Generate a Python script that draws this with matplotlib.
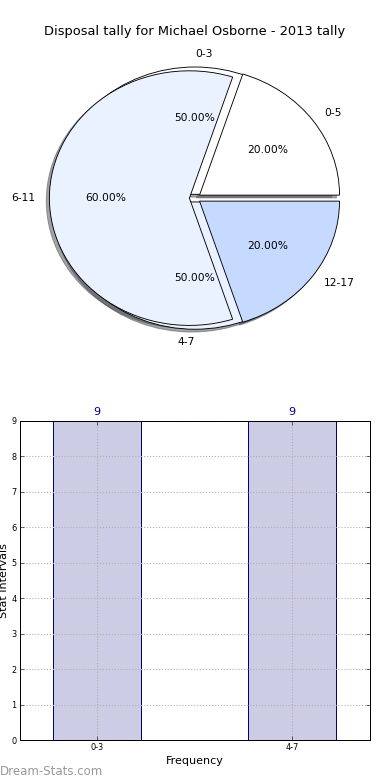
import matplotlib
matplotlib.use("Agg")
import matplotlib.pyplot as plt

# pie data (two overlaid pies, as in the original chart)
inner_labels = ["0-3", "4-7"]
inner_values = [9, 9]
inner_colors = ["white", "#EBF2FF"]

outer_labels = ["0-5", "6-11", "12-17"]
outer_values = [1, 3, 1]
outer_colors = ["white", "#EBF2FF", "#C6D9FF"]

# bar data
bar_labels = ["0-3", "4-7"]
bar_values = [9, 9]

title = "Disposal tally for Michael Osborne - 2013 tally"

dpi = 80
fig = plt.figure(figsize=(390 / dpi, 780 / dpi), dpi=dpi)

# pie
ax1 = fig.add_axes([20 / 390, 0.542, 350 / 390, 0.408])
wedge_style = {"edgecolor": "black", "linewidth": 0.8}
_, inner_texts, _ = ax1.pie(inner_values, labels=inner_labels,
                            colors=inner_colors, explode=[0.03, 0.03],
                            autopct="%.2f%%", shadow=True,
                            wedgeprops=wedge_style,
                            textprops={"fontsize": 9.6})
inner_texts[0].set_ha("left")
inner_texts[1].set_ha("right")
ax1.pie(outer_values, labels=outer_labels, colors=outer_colors,
        explode=[0.04, 0.04, 0.04], autopct="%.2f%%", shadow=True,
        wedgeprops=wedge_style, textprops={"fontsize": 9.6})
ax1.set_aspect("auto")
ax1.set_xlim(-1.25, 1.25)
ax1.set_ylim(-1.25, 1.25)
ax1.set_title(title, fontsize=11.7, pad=4)

# bars
ax2 = fig.add_axes([20 / 390, 40 / 780, 350 / 390, 319 / 780])
x = list(range(len(bar_labels)))
bars = ax2.bar(x, bar_values, width=0.45, color=(0, 0, 0.5, 0.2),
               edgecolor="navy", linewidth=0.9)
for rect, v in zip(bars, bar_values):
    ax2.text(rect.get_x() + rect.get_width() / 2, v + 0.1, str(v),
             ha="center", va="bottom", color="navy", fontsize=10)
ax2.set_xlim(-0.395, 1.4)
ax2.set_ylim(0, 9)
ax2.set_xticks(x)
ax2.set_xticklabels(bar_labels)
ax2.set_yticks(range(0, 10))
ax2.tick_params(direction="in", top=True, right=True, length=4,
                width=0.5, labelsize=7.3, pad=3)
ax2.grid(True, linestyle=":", color="#b0b0b0", linewidth=1)
for s in ax2.spines.values():
    s.set_linewidth(0.9)
ax2.set_xlabel("Frequency", fontsize=10, labelpad=3)
ax2.set_ylabel("Stat Intervals", fontsize=10)
ax2.yaxis.set_label_coords(-0.03, 0.5)

fig.text(0.0, 0.002, "Dream-Stats.com", color="#999999", fontsize=10.6,
         ha="left", va="bottom")

fig.savefig("out.png", dpi=dpi)
